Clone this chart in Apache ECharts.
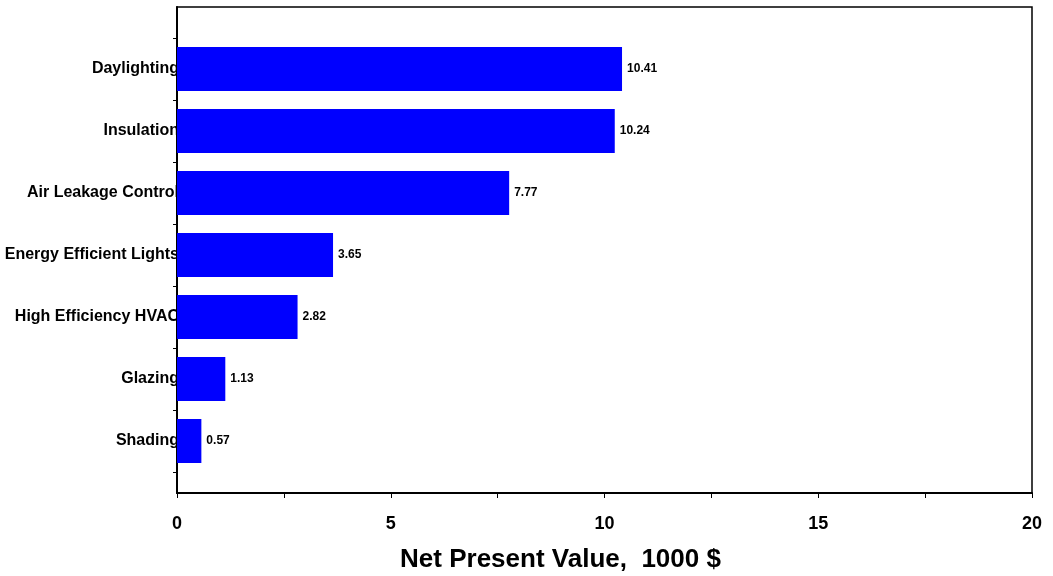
<!DOCTYPE html>
<html><head><meta charset="utf-8">
<script src="https://cdn.jsdelivr.net/npm/echarts@6/dist/echarts.min.js"></script>
<style>html,body{margin:0;padding:0;background:#fff}#c{width:1053px;height:576px}</style>
</head><body><div id="c"></div>
<script>
const categories = ['Daylighting','Insulation','Air Leakage Control','Energy Efficient Lights','High Efficiency HVAC','Glazing','Shading'];
const values = [10.41, 10.24, 7.77, 3.65, 2.82, 1.13, 0.57];
const xTicks = [0, 5, 10, 15, 20];
const axisName = 'Net Present Value,  1000 $';

const font = '"Liberation Sans", Arial, sans-serif';
const chart = echarts.init(document.getElementById('c'));
chart.setOption({
  animation: false,
  grid: [
    {left: 177, right: 21, top: 7, bottom: 83, show: true, borderColor: '#000', borderWidth: 1.5, containLabel: false, outerBoundsMode: 'none'},
    {left: 177, right: 21, top: 38, bottom: 104, containLabel: false, outerBoundsMode: 'none'}
  ],
  xAxis: [
    {gridIndex: 0, type: 'value', min: 0, max: 20, interval: 2.5,
     axisLine: {show: true, lineStyle: {color: '#000', width: 2}},
     axisTick: {show: true, inside: false, length: 5, lineStyle: {color: '#000', width: 1}},
     splitLine: {show: false},
     axisLabel: {margin: 22, color: '#000', fontFamily: font, fontWeight: 'bold', fontSize: 18,
       formatter: v => xTicks.includes(v) ? String(v) : ''},
     name: axisName, nameLocation: 'middle', nameGap: 54,
     nameTextStyle: {color: '#000', fontFamily: font, fontWeight: 'bold', fontSize: 26, padding: [0, 88, 0, 0]}},
    {gridIndex: 1, type: 'value', min: 0, max: 20, show: false}
  ],
  yAxis: [
    {gridIndex: 0, type: 'value', min: 0, max: 1, show: true,
     axisLine: {show: true, lineStyle: {color: '#000', width: 2}},
     axisTick: {show: false}, axisLabel: {show: false}, splitLine: {show: false}},
    {gridIndex: 1, type: 'category', data: categories, inverse: true,
     axisLine: {show: false},
     axisTick: {show: true, length: 4, lineStyle: {color: '#000'}},
     axisLabel: {margin: -2, color: '#000', fontFamily: font, fontWeight: 'bold', fontSize: 16}}
  ],
  series: [{
    type: 'bar', xAxisIndex: 1, yAxisIndex: 1, data: values, barWidth: 44,
    itemStyle: {color: '#0000ff'},
    label: {show: true, position: 'right', distance: 5, color: '#000', fontFamily: font, fontWeight: 'bold', fontSize: 12,
      formatter: p => p.value.toFixed(2)}
  }]
});
</script></body></html>
